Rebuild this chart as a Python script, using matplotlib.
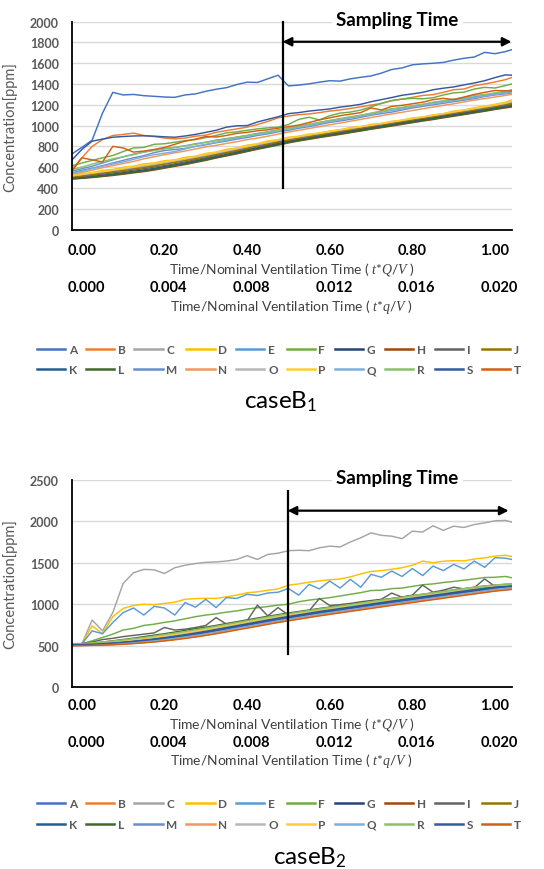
import matplotlib
matplotlib.use("Agg")
import matplotlib.pyplot as plt
from matplotlib.transforms import blended_transform_factory

plt.rcParams['font.family'] = ['Lato', 'DejaVu Sans']
plt.rcParams['mathtext.fontset'] = 'custom'
plt.rcParams['mathtext.rm'] = 'Lato'
plt.rcParams['mathtext.it'] = 'Liberation Serif:italic'
plt.rcParams['mathtext.bf'] = 'Lato:bold'

# ---- data ---------------------------------------------------------------
names = list("ABCDEFGHIJKLMNOPQRST")
colors = ['#4472C4', '#ED7D31', '#A5A5A5', '#FFC000', '#5B9BD5', '#70AD47',
          '#264478', '#9E480E', '#636363', '#997300', '#255E91', '#43682B',
          '#698ED0', '#F1975A', '#B7B7B7', '#FFCD33', '#7CAFDD', '#8CC168',
          '#335AA1', '#D26012']

# time axis, t*Q/V
t_qv = [-0.025, 0.0, 0.025, 0.05, 0.075, 0.1, 0.125, 0.15, 0.175, 0.2, 0.225,
        0.25, 0.275, 0.3, 0.325, 0.35, 0.375, 0.4, 0.425, 0.45, 0.475, 0.5,
        0.525, 0.55, 0.575, 0.6, 0.625, 0.65, 0.675, 0.7, 0.725, 0.75, 0.775,
        0.8, 0.825, 0.85, 0.875, 0.9, 0.925, 0.95, 0.975, 1.0, 1.025, 1.04]

tick_pos = [0.0, 0.2, 0.4, 0.6, 0.8, 1.0]
tick_QV = ["0.00", "0.20", "0.40", "0.60", "0.80", "1.00"]
tick_qV = ["0.000", "0.004", "0.008", "0.012", "0.016", "0.020"]

# caseB1 [ppm]
b1_A = [725, 790, 860, 1120, 1320, 1295, 1300, 1288, 1282, 1275, 1272,
        1295, 1305, 1330, 1350, 1365, 1395, 1418, 1415, 1450, 1485, 1382,
        1390, 1402, 1418, 1432, 1428, 1450, 1465, 1478, 1505, 1540, 1555,
        1585, 1594, 1600, 1608, 1630, 1648, 1660, 1705, 1692, 1712, 1730]
b1_B = [575, 690, 800, 865, 905, 915, 928, 905, 895, 880, 872,
        880, 898, 908, 935, 952, 968, 985, 1010, 1040, 1075, 1092,
        1105, 1112, 1125, 1140, 1150, 1165, 1180, 1198, 1212, 1240, 1255,
        1272, 1290, 1298, 1320, 1345, 1352, 1385, 1400, 1420, 1442, 1462]
b1_C = [510, 522, 535, 548, 562, 576, 590, 605, 620, 636, 652,
        670, 690, 708, 728, 748, 768, 790, 810, 830, 850, 868,
        885, 901, 917, 933, 949, 965, 981, 997, 1013, 1029, 1045,
        1061, 1077, 1092, 1108, 1124, 1140, 1156, 1172, 1190, 1208, 1222]
b1_D = [520, 538, 548, 570, 578, 598, 610, 632, 640, 662, 670,
        694, 706, 732, 745, 772, 785, 812, 825, 852, 865, 888,
        898, 918, 928, 948, 960, 981, 990, 1012, 1020, 1042, 1052,
        1074, 1082, 1104, 1115, 1140, 1150, 1172, 1186, 1205, 1225, 1245]
b1_E = [560, 585, 610, 640, 670, 700, 725, 745, 765, 780, 790,
        805, 825, 840, 860, 875, 888, 905, 925, 940, 958, 975,
        990, 1012, 1030, 1048, 1062, 1080, 1098, 1115, 1140, 1160, 1172,
        1190, 1202, 1222, 1232, 1250, 1262, 1276, 1292, 1310, 1322, 1330]
b1_F = [612, 640, 665, 690, 712, 750, 785, 790, 820, 825, 840,
        855, 865, 885, 905, 930, 940, 955, 968, 978, 985, 1010,
        1060, 1080, 1055, 1095, 1120, 1130, 1150, 1180, 1215, 1240, 1255,
        1262, 1258, 1268, 1295, 1315, 1322, 1352, 1368, 1362, 1385, 1400]
b1_G = [492, 500, 510, 522, 534, 546, 560, 573, 588, 605, 622,
        641, 661, 682, 702, 722, 744, 766, 786, 806, 827, 848,
        866, 882, 898, 914, 930, 946, 963, 979, 995, 1011, 1027,
        1043, 1059, 1074, 1090, 1106, 1121, 1137, 1153, 1170, 1186, 1196]
b1_H = [485, 492, 500, 510, 520, 532, 545, 557, 572, 590, 608,
        625, 645, 665, 688, 708, 728, 750, 772, 792, 812, 833,
        852, 868, 885, 900, 915, 932, 948, 965, 980, 996, 1012,
        1028, 1044, 1058, 1075, 1090, 1106, 1122, 1138, 1155, 1170, 1178]
b1_I = [498, 508, 520, 532, 545, 556, 572, 586, 600, 615, 632,
        650, 672, 690, 712, 732, 752, 775, 795, 815, 836, 856,
        874, 890, 906, 922, 938, 955, 971, 987, 1002, 1018, 1034,
        1050, 1066, 1081, 1097, 1112, 1128, 1144, 1160, 1176, 1192, 1202]
b1_J = [505, 515, 528, 542, 555, 568, 582, 596, 612, 628, 645,
        662, 682, 700, 720, 740, 760, 782, 802, 822, 843, 862,
        880, 896, 912, 928, 944, 960, 976, 992, 1008, 1024, 1040,
        1056, 1072, 1087, 1103, 1118, 1134, 1150, 1166, 1182, 1200, 1212]
b1_K = [490, 497, 506, 517, 528, 540, 553, 566, 582, 600, 616,
        635, 655, 676, 696, 716, 737, 760, 780, 800, 821, 842,
        860, 877, 893, 909, 925, 941, 957, 973, 990, 1005, 1021,
        1037, 1053, 1068, 1084, 1100, 1115, 1131, 1147, 1165, 1180, 1190]
b1_L = [488, 495, 504, 514, 525, 537, 550, 562, 578, 595, 612,
        630, 650, 670, 692, 712, 732, 755, 776, 796, 817, 838,
        856, 872, 889, 905, 920, 936, 952, 969, 985, 1000, 1016,
        1032, 1048, 1063, 1079, 1095, 1110, 1126, 1142, 1160, 1175, 1184]
b1_M = [545, 570, 590, 615, 640, 665, 690, 710, 740, 760, 770,
        780, 800, 815, 835, 850, 870, 885, 905, 920, 940, 955,
        975, 990, 1010, 1030, 1045, 1060, 1080, 1100, 1115, 1130, 1150,
        1170, 1185, 1200, 1215, 1230, 1245, 1260, 1280, 1295, 1305, 1315]
b1_N = [530, 550, 570, 595, 615, 635, 655, 680, 700, 720, 738,
        755, 775, 795, 810, 828, 845, 865, 880, 898, 918, 938,
        955, 972, 990, 1008, 1025, 1042, 1060, 1078, 1095, 1112, 1128,
        1145, 1162, 1178, 1195, 1210, 1228, 1245, 1260, 1275, 1290, 1300]
b1_O = [515, 528, 542, 556, 570, 584, 600, 616, 630, 646, 662,
        680, 698, 718, 738, 758, 778, 798, 818, 838, 858, 876,
        892, 908, 924, 940, 956, 972, 988, 1003, 1018, 1034, 1050,
        1066, 1082, 1097, 1113, 1129, 1145, 1162, 1178, 1196, 1214, 1230]
b1_P = [518, 532, 546, 560, 574, 590, 606, 622, 636, 652, 668,
        686, 704, 724, 744, 764, 784, 804, 824, 844, 864, 880,
        896, 912, 928, 943, 959, 975, 990, 1006, 1020, 1036, 1052,
        1068, 1083, 1098, 1115, 1132, 1149, 1166, 1184, 1200, 1220, 1238]
b1_Q = [540, 560, 585, 610, 630, 650, 675, 700, 720, 735, 750,
        775, 800, 820, 840, 860, 880, 900, 915, 930, 950, 968,
        985, 1000, 1020, 1040, 1055, 1075, 1090, 1110, 1128, 1145, 1160,
        1180, 1195, 1210, 1225, 1240, 1255, 1270, 1285, 1300, 1312, 1325]
b1_R = [575, 600, 630, 655, 680, 700, 720, 745, 760, 775, 790,
        805, 820, 838, 855, 870, 890, 905, 920, 938, 955, 975,
        995, 1012, 1030, 1050, 1068, 1085, 1100, 1120, 1140, 1160, 1175,
        1190, 1205, 1225, 1240, 1255, 1270, 1290, 1300, 1315, 1330, 1345]
b1_S = [665, 770, 850, 870, 888, 895, 900, 902, 898, 892, 888,
        900, 915, 935, 955, 985, 998, 1000, 1035, 1060, 1085, 1115,
        1125, 1140, 1150, 1160, 1178, 1190, 1205, 1230, 1250, 1270, 1292,
        1305, 1320, 1345, 1360, 1372, 1392, 1410, 1432, 1462, 1488, 1485]
b1_T = [555, 690, 670, 650, 800, 785, 745, 755, 770, 790, 820,
        850, 870, 895, 890, 905, 925, 935, 950, 960, 975, 990,
        1005, 1030, 1055, 1075, 1095, 1110, 1125, 1170, 1150, 1185, 1195,
        1210, 1225, 1250, 1262, 1250, 1275, 1300, 1320, 1338, 1335, 1335]

# caseB2 [ppm]
b2_A = [506, 507, 510, 515, 520, 527, 536, 546, 558, 571, 586,
        602, 620, 640, 661, 683, 706, 728, 751, 774, 796, 816,
        836, 856, 876, 894, 912, 930, 948, 966, 984, 1002, 1019,
        1036, 1054, 1071, 1088, 1106, 1123, 1140, 1157, 1174, 1186, 1194]
b2_B = [502, 504, 507, 511, 515, 521, 530, 539, 550, 562, 577,
        593, 610, 629, 650, 672, 695, 717, 740, 763, 785, 805,
        825, 845, 865, 883, 901, 919, 937, 955, 973, 991, 1008,
        1025, 1043, 1060, 1077, 1095, 1112, 1129, 1146, 1163, 1175, 1182]
b2_C = [520, 522, 810, 680, 900, 1250, 1380, 1420, 1415, 1370, 1440,
        1470, 1490, 1505, 1510, 1520, 1540, 1585, 1540, 1600, 1615, 1645,
        1650, 1645, 1680, 1700, 1690, 1750, 1800, 1860, 1830, 1820, 1790,
        1880, 1870, 1945, 1890, 1940, 1925, 1960, 1980, 2005, 2010, 1990]
b2_D = [520, 525, 740, 645, 850, 950, 985, 1000, 995, 1010, 1025,
        1060, 1068, 1072, 1070, 1090, 1110, 1138, 1150, 1168, 1185, 1230,
        1245, 1265, 1282, 1295, 1305, 1330, 1365, 1395, 1405, 1422, 1440,
        1470, 1520, 1500, 1518, 1525, 1522, 1545, 1558, 1580, 1590, 1575]
b2_E = [520, 522, 680, 645, 780, 900, 955, 870, 975, 955, 870,
        1020, 965, 1060, 960, 1080, 1070, 1120, 1105, 1135, 1145, 1190,
        1110, 1240, 1185, 1280, 1195, 1300, 1205, 1360, 1325, 1400, 1335,
        1430, 1345, 1460, 1405, 1480, 1425, 1520, 1445, 1560, 1555, 1540]
b2_F = [520, 522, 560, 600, 640, 690, 710, 745, 760, 782, 800,
        825, 850, 870, 885, 905, 920, 942, 958, 972, 990, 1000,
        1030, 1050, 1065, 1080, 1100, 1120, 1140, 1165, 1170, 1188, 1195,
        1215, 1235, 1245, 1262, 1275, 1290, 1305, 1322, 1325, 1335, 1320]
b2_G = [516, 517, 522, 529, 537, 546, 557, 575, 582, 597, 613,
        630, 655, 669, 691, 713, 745, 758, 781, 804, 835, 846,
        866, 892, 906, 924, 950, 960, 978, 1000, 1014, 1032, 1055,
        1066, 1084, 1101, 1125, 1136, 1153, 1175, 1187, 1204, 1216, 1220]
b2_H = [512, 513, 517, 523, 530, 538, 548, 559, 572, 586, 601,
        618, 636, 656, 677, 700, 722, 744, 767, 790, 812, 832,
        852, 872, 892, 910, 928, 946, 964, 982, 1000, 1018, 1035,
        1052, 1070, 1087, 1104, 1122, 1139, 1156, 1173, 1190, 1203, 1209]
b2_I = [520, 522, 545, 575, 590, 610, 625, 640, 655, 720, 690,
        700, 720, 745, 840, 760, 775, 800, 990, 860, 960, 870,
        905, 920, 1070, 985, 995, 1010, 1030, 1045, 1060, 1135, 1085,
        1110, 1230, 1145, 1170, 1205, 1185, 1200, 1305, 1215, 1235, 1240]
b2_J = [520, 521, 526, 535, 544, 554, 566, 579, 593, 609, 626,
        644, 663, 684, 706, 729, 752, 774, 797, 820, 842, 862,
        882, 902, 922, 940, 958, 976, 994, 1012, 1030, 1048, 1065,
        1082, 1100, 1117, 1134, 1152, 1169, 1186, 1203, 1218, 1230, 1234]
b2_K = [518, 519, 524, 532, 540, 550, 561, 574, 588, 603, 619,
        637, 656, 676, 698, 721, 744, 766, 789, 812, 834, 854,
        874, 894, 914, 932, 950, 968, 986, 1004, 1022, 1040, 1057,
        1074, 1092, 1109, 1126, 1144, 1161, 1178, 1195, 1212, 1224, 1228]
b2_L = [525, 526, 532, 545, 560, 575, 592, 610, 628, 645, 665,
        685, 705, 725, 745, 768, 790, 812, 834, 855, 875, 895,
        913, 931, 949, 966, 984, 1001, 1018, 1036, 1053, 1070, 1087,
        1104, 1121, 1138, 1155, 1172, 1188, 1205, 1220, 1232, 1240, 1242]
b2_M = [508, 509, 512, 517, 523, 530, 540, 550, 562, 576, 591,
        607, 625, 645, 666, 688, 711, 733, 756, 779, 801, 821,
        841, 861, 881, 899, 917, 935, 953, 971, 989, 1007, 1024,
        1041, 1059, 1076, 1093, 1111, 1128, 1145, 1162, 1179, 1192, 1199]
b2_N = [504, 505, 508, 512, 517, 523, 532, 541, 553, 565, 580,
        596, 613, 632, 653, 675, 698, 720, 743, 766, 788, 808,
        828, 848, 868, 886, 904, 922, 940, 958, 976, 994, 1011,
        1028, 1046, 1063, 1080, 1098, 1115, 1132, 1149, 1166, 1178, 1186]
b2_O = [521, 522, 528, 538, 548, 559, 571, 584, 599, 615, 633,
        651, 671, 692, 714, 737, 760, 782, 805, 828, 850, 870,
        890, 910, 930, 948, 966, 984, 1002, 1020, 1038, 1056, 1073,
        1090, 1108, 1125, 1142, 1160, 1177, 1194, 1211, 1224, 1234, 1238]
b2_P = [522, 523, 530, 541, 552, 564, 577, 591, 606, 622, 640,
        659, 679, 700, 722, 745, 768, 790, 813, 836, 858, 878,
        898, 918, 938, 956, 974, 992, 1010, 1028, 1046, 1064, 1081,
        1098, 1116, 1133, 1150, 1168, 1185, 1202, 1216, 1228, 1237, 1240]
b2_Q = [510, 511, 514, 520, 526, 534, 544, 555, 567, 581, 596,
        612, 630, 650, 671, 694, 716, 738, 761, 784, 806, 826,
        846, 866, 886, 904, 922, 940, 958, 976, 994, 1012, 1029,
        1046, 1064, 1081, 1098, 1116, 1133, 1150, 1167, 1184, 1197, 1204]
b2_R = [523, 524, 531, 543, 556, 570, 586, 600, 617, 635, 652,
        672, 692, 713, 735, 757, 780, 802, 824, 846, 866, 886,
        905, 924, 943, 961, 979, 996, 1014, 1032, 1049, 1067, 1084,
        1101, 1118, 1136, 1152, 1170, 1186, 1203, 1218, 1230, 1238, 1241]
b2_S = [514, 515, 519, 526, 533, 542, 552, 564, 577, 591, 607,
        624, 642, 662, 684, 706, 729, 751, 774, 797, 819, 839,
        859, 879, 899, 917, 935, 953, 971, 989, 1007, 1025, 1042,
        1059, 1077, 1094, 1111, 1129, 1146, 1163, 1180, 1197, 1210, 1215]
b2_T = [500, 502, 505, 508, 512, 518, 526, 535, 546, 558, 572,
        588, 605, 624, 645, 667, 690, 712, 735, 758, 780, 800,
        820, 840, 860, 878, 896, 914, 932, 950, 968, 986, 1003,
        1020, 1038, 1055, 1072, 1090, 1107, 1124, 1141, 1158, 1170, 1178]

case_b1 = [b1_A, b1_B, b1_C, b1_D, b1_E, b1_F, b1_G, b1_H, b1_I, b1_J,
           b1_K, b1_L, b1_M, b1_N, b1_O, b1_P, b1_Q, b1_R, b1_S, b1_T]
case_b2 = [b2_A, b2_B, b2_C, b2_D, b2_E, b2_F, b2_G, b2_H, b2_I, b2_J,
           b2_K, b2_L, b2_M, b2_N, b2_O, b2_P, b2_Q, b2_R, b2_S, b2_T]

# sampling window: start time, bar top, arrow level, arrow end
sampling_b1 = (0.486, 2000, 1807, 1.04)
sampling_b2 = (0.498, 2365, 2127, 1.033)

# ---- figure -------------------------------------------------------------
W, H = 544, 870
fig = plt.figure(figsize=(W / 100, H / 100), dpi=100)
GRAY = '#595959'


def fy(py):
    return 1 - py / H


def panel(series, ax_top, ax_bot, ymax, ystep, sampling, rows, caption, cap_x):
    ax = fig.add_axes([71.5 / W, fy(ax_bot), 440 / W, (ax_bot - ax_top) / H])
    for name, col, vals in zip(names, colors, series):
        ax.plot(t_qv, vals, color=col, lw=1.05, label=name, solid_joinstyle='round')
    ax.set_xlim(-0.025, 1.04)
    ax.set_ylim(0, ymax)
    ax.set_yticks(range(0, ymax + 1, ystep))
    ax.set_xticks([])
    ax.tick_params(axis='y', length=0, pad=9, labelsize=9, labelcolor=GRAY)
    for lab in ax.get_yticklabels():
        lab.set_fontweight('bold')
    ax.yaxis.grid(True, color='#D9D9D9', lw=1.0)
    ax.set_axisbelow(True)
    for s in ['top', 'right']:
        ax.spines[s].set_visible(False)
    for s in ['left', 'bottom']:
        ax.spines[s].set_color('black')
        ax.spines[s].set_linewidth(1.3)
    ax.set_ylabel('Concentration[ppm]', fontsize=10.5, color=GRAY)
    ax.yaxis.set_label_coords(-0.124, 0.5)

    # sampling time marker
    t0, top, ya, t1 = sampling
    ax.plot([t0, t0], [400, top], color='black', lw=1.6, zorder=6, clip_on=False)
    ax.annotate('', xy=(t1, ya), xytext=(t0, ya),
                arrowprops=dict(arrowstyle='<|-|>', color='black', lw=1.6,
                                mutation_scale=13, shrinkA=0, shrinkB=0),
                zorder=6, annotation_clip=False)
    tr_t = blended_transform_factory(ax.transData, fig.transFigure)
    ax.text(0.764, fy(ax_top - 2), 'Sampling Time', transform=tr_t,
            ha='center', va='center', fontsize=13.5, fontweight='bold',
            bbox=dict(facecolor='white', edgecolor='none', pad=3), zorder=7)

    # two rows of x tick labels with their titles
    r1, l1, r2, l2 = rows
    for x, a, b in zip(tick_pos, tick_QV, tick_qV):
        ax.text(x, fy(r1), a, transform=tr_t, ha='center', va='center',
                fontsize=10.5, fontweight='bold')
        ax.text(x + 0.01, fy(r2), b, transform=tr_t, ha='center', va='center',
                fontsize=10.5, fontweight='bold')
    tr_c = blended_transform_factory(ax.transAxes, fig.transFigure)
    ax.text(0.5, fy(l1), r'Time/Nominal Ventilation Time ( $t$*$Q/V$ )',
            transform=tr_c, ha='center', va='center', fontsize=10, color='#404040')
    ax.text(0.5, fy(l2), r'Time/Nominal Ventilation Time ( $t$*$q/V$ )',
            transform=tr_c, ha='center', va='center', fontsize=10, color='#404040')

    # legend, row-major order like the spreadsheet
    handles, labels = ax.get_legend_handles_labels()
    order = [i for pair in zip(range(10), range(10, 20)) for i in pair]
    leg = fig.legend([handles[i] for i in order], [labels[i] for i in order],
                     loc='center left', bbox_to_anchor=(37 / W, fy(l2 + 54)),
                     ncol=10, frameon=False, handlelength=2.4, handletextpad=0.3,
                     columnspacing=0.75, labelspacing=0.8, borderpad=0,
                     borderaxespad=0, labelcolor=GRAY,
                     prop={'size': 8.5, 'weight': 'bold'})
    for ln in leg.get_lines():
        ln.set_linewidth(1.8)

    fig.text(cap_x / W, fy(caption[1]), caption[0], ha='center', va='center',
             fontsize=17.5)
    return ax


panel(case_b1, 22.7, 230.5, 2000, 200, sampling_b1,
      (251, 269.3, 288.3, 306.7), ('caseB$_1$', 401.7), 281)
panel(case_b2, 480.7, 688.3, 2500, 500, sampling_b2,
      (706, 724.3, 742.7, 761), ('caseB$_2$', 857.5), 310)

fig.savefig('out.png', dpi=100)
